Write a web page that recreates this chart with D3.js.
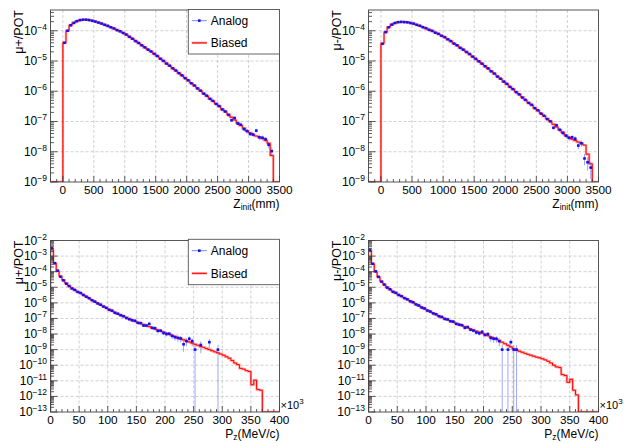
<!DOCTYPE html>
<html>
<head>
<meta charset="utf-8">
<script src="https://cdn.jsdelivr.net/npm/d3@7"></script>
<style>
  body { margin: 0; background: #fff; }
  svg { display: block; font-family: "Liberation Sans", Arial, sans-serif; }
</style>
</head>
<body>
<script>
//----------------- Data -----------------

// Z_init histograms: 50 mm bins starting at 0
const zBinStart = 0;
const zBinWidth = 50;

const zPlusBiased = [4.0e-5, 1.0e-4, 1.5e-4, 1.8e-4, 2.05e-4, 2.2e-4, 2.3e-4, 2.3e-4, 2.25e-4, 2.15e-4,
  2.0e-4, 1.87e-4, 1.72e-4, 1.58e-4, 1.44e-4, 1.31e-4, 1.18e-4, 1.06e-4, 9.5e-5, 8.5e-5,
  7.4e-5, 6.3e-5, 5.4e-5, 4.6e-5, 3.9e-5, 3.3e-5, 2.8e-5, 2.4e-5, 2.05e-5, 1.74e-5,
  1.45e-5, 1.2e-5, 1.0e-5, 8.3e-6, 6.9e-6, 5.75e-6, 4.8e-6, 4.0e-6, 3.3e-6, 2.75e-6,
  2.27e-6, 1.86e-6, 1.53e-6, 1.26e-6, 1.03e-6, 8.5e-7, 7.0e-7, 5.75e-7, 4.7e-7, 3.9e-7,
  3.2e-7, 2.55e-7, 2.1e-7, 1.7e-7, 1.38e-7, 1.12e-7, 9.1e-8, 7.4e-8, 6.0e-8, 4.9e-8,
  4.2e-8, 3.6e-8, 3.3e-8, 3.0e-8, 2.75e-8, 2.4e-8, 1.9e-8, 7.5e-9];

const zPlusAnalog = [4.0e-5, 1.0e-4, 1.52e-4, 1.82e-4, 2.07e-4, 2.25e-4, 2.32e-4, 2.32e-4, 2.26e-4, 2.14e-4,
  2.01e-4, 1.86e-4, 1.73e-4, 1.57e-4, 1.45e-4, 1.30e-4, 1.19e-4, 1.05e-4, 9.6e-5, 8.4e-5,
  7.5e-5, 6.3e-5, 5.45e-5, 4.55e-5, 3.95e-5, 3.3e-5, 2.82e-5, 2.38e-5, 2.07e-5, 1.72e-5,
  1.47e-5, 1.19e-5, 1.01e-5, 8.2e-6, 7.0e-6, 5.7e-6, 4.85e-6, 3.95e-6, 3.35e-6, 2.7e-6,
  2.3e-6, 1.83e-6, 1.55e-6, 1.24e-6, 1.05e-6, 8.3e-7, 7.1e-7, 5.6e-7, 4.8e-7, 3.8e-7,
  3.25e-7, 2.5e-7, 2.15e-7, 1.65e-7, 1.1e-7, 1.3e-7, 8.5e-8, 7.8e-8, 5.6e-8, 4.8e-8,
  3.9e-8, 3.7e-8, 5.0e-8, 3.0e-8, 2.9e-8, 2.6e-8, 1.7e-8, 1.05e-8];

const zMinusBiased = [3.8e-5, 8.9e-5, 1.32e-4, 1.58e-4, 1.78e-4, 1.91e-4, 1.95e-4, 1.95e-4, 1.91e-4, 1.82e-4,
  1.70e-4, 1.58e-4, 1.45e-4, 1.32e-4, 1.20e-4, 1.08e-4, 9.8e-5, 8.7e-5, 7.8e-5, 6.9e-5,
  6.1e-5, 5.25e-5, 4.5e-5, 3.8e-5, 3.25e-5, 2.75e-5, 2.35e-5, 2.0e-5, 1.68e-5, 1.41e-5,
  1.17e-5, 9.8e-6, 8.1e-6, 6.8e-6, 5.6e-6, 4.6e-6, 3.8e-6, 3.1e-6, 2.57e-6, 2.11e-6,
  1.74e-6, 1.41e-6, 1.16e-6, 9.5e-7, 7.8e-7, 6.3e-7, 5.1e-7, 4.2e-7, 3.5e-7, 2.8e-7,
  2.3e-7, 1.86e-7, 1.51e-7, 1.23e-7, 1.0e-7, 8.1e-8, 6.6e-8, 5.4e-8, 4.4e-8, 3.5e-8,
  2.95e-8, 2.6e-8, 2.35e-8, 2.1e-8, 1.9e-8, 1.66e-8, 8.3e-9, 4.0e-9];

const zMinusAnalog = [3.7e-5, 9.0e-5, 1.3e-4, 1.6e-4, 1.8e-4, 1.92e-4, 1.96e-4, 1.93e-4, 1.9e-4, 1.8e-4,
  1.72e-4, 1.57e-4, 1.46e-4, 1.31e-4, 1.21e-4, 1.07e-4, 9.9e-5, 8.6e-5, 7.9e-5, 6.8e-5,
  6.15e-5, 5.2e-5, 4.55e-5, 3.75e-5, 3.3e-5, 2.72e-5, 2.38e-5, 1.98e-5, 1.7e-5, 1.39e-5,
  1.18e-5, 9.7e-6, 8.2e-6, 6.7e-6, 5.7e-6, 4.55e-6, 3.85e-6, 3.05e-6, 2.6e-6, 2.08e-6,
  1.76e-6, 1.39e-6, 1.18e-6, 9.3e-7, 7.9e-7, 6.2e-7, 5.2e-7, 4.1e-7, 3.55e-7, 2.75e-7,
  2.35e-7, 1.82e-7, 1.55e-7, 1.2e-7, 1.02e-7, 6.2e-8, 7.5e-8, 5.3e-8, 4.2e-8, 3.4e-8,
  2.9e-8, 3.0e-8, 2.7e-8, 1.6e-8, 1.9e-8, 6.0e-9, 4.5e-9, 3.0e-9];

// Pz histograms: 5 (x10^3 MeV/c) bins starting at 0
const pzBinStart = 0;
const pzBinWidth = 5;

const pzPlusBiased = [2.5e-3, 3.5e-4, 1.1e-4, 5.0e-5, 2.8e-5, 1.8e-5, 1.2e-5, 8.7e-6, 6.6e-6, 5.1e-6,
  4.2e-6, 3.2e-6, 2.5e-6, 1.95e-6, 1.5e-6, 1.17e-6, 9.3e-7, 7.4e-7, 5.9e-7, 4.7e-7,
  3.7e-7, 3.0e-7, 2.45e-7, 2.0e-7, 1.66e-7, 1.38e-7, 1.15e-7, 9.5e-8, 7.9e-8, 6.6e-8,
  5.6e-8, 4.8e-8, 4.1e-8, 3.5e-8, 3.0e-8, 2.5e-8, 2.1e-8, 1.8e-8, 1.55e-8, 1.32e-8,
  1.12e-8, 9.5e-9, 8.1e-9, 6.9e-9, 5.9e-9, 5.0e-9, 4.3e-9, 3.6e-9, 3.1e-9, 2.6e-9,
  2.2e-9, 1.9e-9, 1.6e-9, 1.4e-9, 1.17e-9, 1.0e-9, 8.5e-10, 7.2e-10, 6.2e-10, 5.2e-10,
  4.4e-10, 3.5e-10, 2.8e-10, 2.0e-10, 1.4e-10, 1.1e-10, 6.3e-11, 5.6e-11, 4.5e-11, 4.0e-11,
  5.6e-12, 1.1e-11, 2.8e-12, 2.5e-12, 0, 0, 0, 0, 0, 0];

const pzPlusAnalog = [3.2e-3, 3.5e-4, 1.17e-4, 4.8e-5, 2.8e-5, 1.7e-5, 1.2e-5, 8.3e-6, 6.8e-6, 5.0e-6,
  4.3e-6, 3.2e-6, 2.5e-6, 2.0e-6, 1.48e-6, 1.2e-6, 9.1e-7, 7.6e-7, 5.8e-7, 4.8e-7,
  3.6e-7, 3.2e-7, 2.3e-7, 2.0e-7, 1.6e-7, 1.4e-7, 1.07e-7, 8.9e-8, 7.6e-8, 7.1e-8,
  5.2e-8, 5.0e-8, 3.5e-8, 3.5e-8, 4.5e-8, 2.5e-8, 2.4e-8, 1.6e-8, 1.65e-8, 1.17e-8,
  1.0e-8, 1.05e-8, 7.6e-9, 6.3e-9, 5.6e-9, 5.2e-9, 2.2e-9, 3.5e-9, 5.0e-9, 3.5e-9,
  1.0e-9, 0, 2.0e-9, 0, 0, 3.0e-9, 0, 0, 1.0e-9, 0,
  0, 0, 0, 0, 0, 0, 0, 0, 0, 0,
  0, 0, 0, 0, 0, 0, 0, 0, 0, 0];

const pzMinusBiased = [2.2e-3, 3.2e-4, 1.0e-4, 4.5e-5, 2.4e-5, 1.48e-5, 1.0e-5, 7.2e-6, 5.4e-6, 4.2e-6,
  3.3e-6, 2.6e-6, 2.1e-6, 1.66e-6, 1.32e-6, 1.05e-6, 8.3e-7, 6.6e-7, 5.2e-7, 4.2e-7,
  3.3e-7, 2.7e-7, 2.2e-7, 1.78e-7, 1.45e-7, 1.2e-7, 1.0e-7, 8.3e-8, 6.9e-8, 5.8e-8,
  4.8e-8, 4.1e-8, 3.5e-8, 3.0e-8, 2.5e-8, 2.1e-8, 1.8e-8, 1.55e-8, 1.32e-8, 1.12e-8,
  9.5e-9, 7.9e-9, 6.6e-9, 5.5e-9, 4.6e-9, 3.8e-9, 3.0e-9, 2.4e-9, 1.9e-9, 1.5e-9,
  1.12e-9, 9.5e-10, 7.9e-10, 6.8e-10, 5.8e-10, 5.0e-10, 4.4e-10, 3.8e-10, 3.3e-10, 3.0e-10,
  2.6e-10, 2.2e-10, 1.8e-10, 1.4e-10, 1.0e-10, 7.9e-11, 7.1e-11, 2.5e-11, 2.2e-11, 7.9e-12,
  1.26e-11, 2.5e-12, 1.26e-12, 0, 0, 0, 0, 0, 0, 0];

const pzMinusAnalog = [2.5e-3, 3.2e-4, 1.05e-4, 4.7e-5, 2.3e-5, 1.5e-5, 9.5e-6, 7.4e-6, 5.1e-6, 4.4e-6,
  3.2e-6, 2.7e-6, 2.0e-6, 1.7e-6, 1.26e-6, 1.1e-6, 7.9e-7, 6.8e-7, 5.0e-7, 4.4e-7,
  3.2e-7, 2.8e-7, 2.1e-7, 1.86e-7, 1.38e-7, 1.26e-7, 9.3e-8, 8.7e-8, 6.6e-8, 6.3e-8,
  4.5e-8, 4.0e-8, 3.7e-8, 2.5e-8, 2.8e-8, 1.9e-8, 1.66e-8, 1.26e-8, 1.12e-8, 1.4e-8,
  8.9e-9, 1.0e-8, 5.6e-9, 5.0e-9, 5.0e-9, 3.5e-9, 1.0e-9, 0, 1.0e-9, 3.0e-9,
  1.0e-9, 1.0e-9, 0, 0, 0, 0, 0, 0, 0, 0,
  0, 0, 0, 0, 0, 0, 0, 0, 0, 0,
  0, 0, 0, 0, 0, 0, 0, 0, 0, 0];

// weight of one analog event (sets the Poisson error bars)
const analogEventWeight = 1e-9;

const legendLabels = ["Analog", "Biased"];

//----------------- Panel layout -----------------

const panels = [
  { x0: 50.5, x1: 279.5, y0: 10, y1: 182, xDomain: [-200, 3500], yDomain: [1e-9, 4.85e-4],
    binStart: zBinStart, binWidth: zBinWidth, biased: zPlusBiased, analog: zPlusAnalog,
    yTitle: "μ+/POT", xTitle: ["Z", "init", "(mm)"], xMajor: 500, xMinor: 100,
    legend: { x0: 188.3, x1: 279.5, y0: 9.5, y1: 54 }, exponent: false },
  { x0: 368.5, x1: 598.5, y0: 10, y1: 182, xDomain: [-200, 3500], yDomain: [1e-9, 4.85e-4],
    binStart: zBinStart, binWidth: zBinWidth, biased: zMinusBiased, analog: zMinusAnalog,
    yTitle: "μ-/POT", xTitle: ["Z", "init", "(mm)"], xMajor: 500, xMinor: 100,
    legend: null, exponent: false },
  { x0: 50.5, x1: 279.5, y0: 240.5, y1: 412, xDomain: [0, 400], yDomain: [1e-13, 1e-2],
    binStart: pzBinStart, binWidth: pzBinWidth, biased: pzPlusBiased, analog: pzPlusAnalog,
    yTitle: "μ+/POT", xTitle: ["P", "z", "(MeV/c)"], xMajor: 50, xMinor: 10,
    legend: { x0: 188.3, x1: 279.5, y0: 239.3, y1: 284.7 }, exponent: true },
  { x0: 368.5, x1: 598.5, y0: 240.5, y1: 412, xDomain: [0, 400], yDomain: [1e-13, 1e-2],
    binStart: pzBinStart, binWidth: pzBinWidth, biased: pzMinusBiased, analog: pzMinusAnalog,
    yTitle: "μ-/POT", xTitle: ["P", "z", "(MeV/c)"], xMajor: 50, xMinor: 10,
    legend: null, exponent: true }
];

const svg = d3.select("body").append("svg").attr("width", 624).attr("height", 443);
svg.append("rect").attr("width", 624).attr("height", 443).attr("fill", "#fff");

panels.forEach((p, k) => drawPanel(p, k));

function drawPanel(p, k) {
  const x = d3.scaleLinear().domain(p.xDomain).range([p.x0, p.x1]);
  const y = d3.scaleLog().domain(p.yDomain).range([p.y1, p.y0]).clamp(true);
  const g = svg.append("g");

  const clipId = "clip" + k;
  svg.append("clipPath").attr("id", clipId)
    .append("rect").attr("x", p.x0).attr("y", p.y0).attr("width", p.x1 - p.x0).attr("height", p.y1 - p.y0);

  // tick positions
  const xMaj = d3.range(Math.ceil(p.xDomain[0] / p.xMajor) * p.xMajor, p.xDomain[1] + 1e-6, p.xMajor);
  const xMin = d3.range(Math.ceil(p.xDomain[0] / p.xMinor) * p.xMinor, p.xDomain[1] + 1e-6, p.xMinor)
    .filter(v => Math.abs(v % p.xMajor) > 1e-6);
  const eLo = Math.round(Math.log10(p.yDomain[0]));
  const eHi = Math.floor(Math.log10(p.yDomain[1]) + 1e-9);
  const yMaj = d3.range(eLo, eHi + 1);
  const yMin = [];
  for (let e = eLo; e <= eHi; e++) {
    for (let m = 2; m <= 9; m++) {
      const v = m * Math.pow(10, e);
      if (v < p.yDomain[1]) yMin.push(v);
    }
  }

  // grid
  const grid = g.append("g").attr("stroke", "#c4c4c4").attr("stroke-width", 0.8).attr("stroke-dasharray", "3,2");
  xMaj.filter(v => x(v) > p.x0 + 1 && x(v) < p.x1 - 1).forEach(v => {
    grid.append("line").attr("x1", x(v)).attr("x2", x(v)).attr("y1", p.y0).attr("y2", p.y1);
  });
  yMaj.filter(e => y(Math.pow(10, e)) > p.y0 + 1 && y(Math.pow(10, e)) < p.y1 - 1).forEach(e => {
    grid.append("line").attr("x1", p.x0).attr("x2", p.x1).attr("y1", y(Math.pow(10, e))).attr("y2", y(Math.pow(10, e)));
  });

  const plot = g.append("g").attr("clip-path", `url(#${clipId})`);

  // analog error bars
  const errs = plot.append("g").attr("stroke", "rgba(40,60,255,0.45)").attr("stroke-width", 1);
  p.analog.forEach((v, i) => {
    if (v <= 0) return;
    const xc = x(p.binStart + (i + 0.5) * p.binWidth);
    const err = Math.sqrt(v * analogEventWeight);
    const lo = v - err > 0 ? y(v - err) : p.y1;
    errs.append("line").attr("x1", xc).attr("x2", xc).attr("y1", lo).attr("y2", y(v + err));
    errs.append("line").attr("x1", x(p.binStart + i * p.binWidth)).attr("x2", x(p.binStart + (i + 1) * p.binWidth))
      .attr("y1", y(v)).attr("y2", y(v));
  });

  // biased step histogram
  const pts = [[x(p.xDomain[0]), p.y1], [x(p.binStart), p.y1]];
  p.biased.forEach((v, i) => {
    const yy = v > 0 ? y(v) : p.y1;
    pts.push([x(p.binStart + i * p.binWidth), yy], [x(p.binStart + (i + 1) * p.binWidth), yy]);
  });
  pts.push([x(p.binStart + p.biased.length * p.binWidth), p.y1], [x(p.xDomain[1]), p.y1]);
  const stepLine = d3.line().curve(d3.curveLinear);
  plot.append("path").attr("d", stepLine(pts)).attr("fill", "none")
    .attr("stroke", "rgba(255,60,60,0.45)").attr("stroke-width", 2.4);
  plot.append("path").attr("d", stepLine(pts)).attr("fill", "none")
    .attr("stroke", "#ff0000").attr("stroke-width", 1);

  // analog markers
  plot.append("g").selectAll("rect")
    .data(p.analog.map((v, i) => [i, v]).filter(d => d[1] > 0))
    .enter().append("rect")
    .attr("x", d => x(p.binStart + (d[0] + 0.5) * p.binWidth) - 1.3)
    .attr("y", d => y(d[1]) - 1.3)
    .attr("width", 2.6).attr("height", 2.6)
    .attr("fill", "#1010ff");

  // ticks (inside the frame)
  const ticks = g.append("g").attr("stroke", "#333").attr("stroke-width", 0.8);
  xMaj.forEach(v => ticks.append("line").attr("x1", x(v)).attr("x2", x(v)).attr("y1", p.y1).attr("y2", p.y1 - 6));
  xMin.forEach(v => ticks.append("line").attr("x1", x(v)).attr("x2", x(v)).attr("y1", p.y1).attr("y2", p.y1 - 3));
  yMaj.forEach(e => ticks.append("line").attr("x1", p.x0).attr("x2", p.x0 + 7)
    .attr("y1", y(Math.pow(10, e))).attr("y2", y(Math.pow(10, e))));
  yMin.forEach(v => ticks.append("line").attr("x1", p.x0).attr("x2", p.x0 + 3.5).attr("y1", y(v)).attr("y2", y(v)));

  // frame
  g.append("rect").attr("x", p.x0).attr("y", p.y0).attr("width", p.x1 - p.x0).attr("height", p.y1 - p.y0)
    .attr("fill", "none").attr("stroke", "#444").attr("stroke-width", 0.9);

  // x tick labels
  xMaj.forEach(v => {
    g.append("text").attr("x", x(v)).attr("y", p.y1 + 12).attr("text-anchor", "middle")
      .attr("font-size", 11.8).attr("fill", "#000").text(v);
  });

  // y tick labels 10^n
  yMaj.forEach(e => {
    const t = g.append("text").attr("x", p.x0 - 3.5).attr("y", y(Math.pow(10, e)) + 4)
      .attr("text-anchor", "end").attr("font-size", 12).attr("fill", "#000");
    t.append("tspan").text("10");
    t.append("tspan").attr("dy", -5).attr("font-size", 8.5).text("\u2212" + Math.abs(e));
  });

  if (p.exponent) {
    const t = g.append("text").attr("x", p.x1 + 1).attr("y", p.y1 - 3).attr("font-size", 11).attr("fill", "#000");
    t.append("tspan").text("\u00d710");
    t.append("tspan").attr("dy", -5).attr("font-size", 8).text("3");
  }

  // axis titles
  const xt = g.append("text").attr("x", p.x1).attr("y", p.y1 + 25.5).attr("text-anchor", "end")
    .attr("font-size", 12).attr("fill", "#000");
  xt.append("tspan").text(p.xTitle[0]);
  xt.append("tspan").attr("dy", 2.5).attr("font-size", 8.5).text(p.xTitle[1]);
  xt.append("tspan").attr("dy", -2.5).text(p.xTitle[2]);

  g.append("text").attr("transform", `translate(${p.x0 - 28},${p.y0}) rotate(-90)`)
    .attr("text-anchor", "end").attr("font-size", 12.5).attr("fill", "#000").text(p.yTitle);

  // legend
  if (p.legend) {
    const L = p.legend;
    const lg = g.append("g");
    lg.append("rect").attr("x", L.x0).attr("y", L.y0).attr("width", L.x1 - L.x0).attr("height", L.y1 - L.y0)
      .attr("fill", "#fff").attr("stroke", "#555").attr("stroke-width", 0.9);
    const rowH = (L.y1 - L.y0) / 2;
    const yA = L.y0 + rowH * 0.5, yB = L.y0 + rowH * 1.5;
    lg.append("line").attr("x1", L.x0 + 3.5).attr("x2", L.x0 + 18.5).attr("y1", yA).attr("y2", yA)
      .attr("stroke", "rgba(40,60,255,0.6)").attr("stroke-width", 1);
    lg.append("rect").attr("x", L.x0 + 11 - 1.3).attr("y", yA - 1.3).attr("width", 2.6).attr("height", 2.6).attr("fill", "#1010ff");
    lg.append("line").attr("x1", L.x0 + 3.5).attr("x2", L.x0 + 18.5).attr("y1", yB).attr("y2", yB)
      .attr("stroke", "rgba(255,60,60,0.5)").attr("stroke-width", 2.4);
    lg.append("line").attr("x1", L.x0 + 3.5).attr("x2", L.x0 + 18.5).attr("y1", yB).attr("y2", yB)
      .attr("stroke", "#ff0000").attr("stroke-width", 1);
    [yA, yB].forEach((yy, i) => {
      lg.append("text").attr("x", L.x0 + 22.5).attr("y", yy + 4.3).attr("font-size", 12).attr("fill", "#000").text(legendLabels[i]);
    });
  }
}
</script>
</body>
</html>
